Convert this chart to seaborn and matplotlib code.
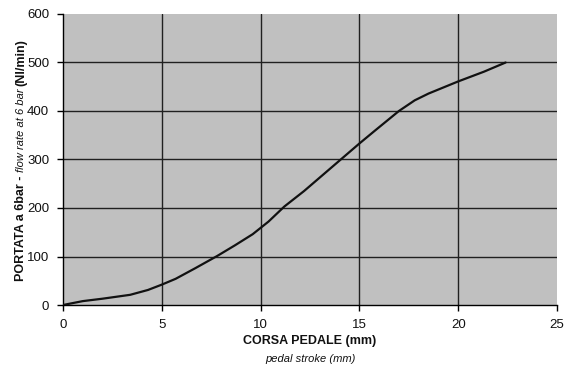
import matplotlib
matplotlib.use("Agg")
import matplotlib.pyplot as plt
import seaborn as sns
import pandas as pd

stroke_mm = [0, 1, 2, 3.4, 4.3, 5, 5.7, 6.7, 7.8, 8.7, 9.6, 10.4, 11.2, 12.2,
             13.2, 14.2, 15, 15.8, 17, 17.8, 18.5, 20, 21.3, 22.4]
flow_nl_min = [0, 8, 13, 21, 31, 42, 54, 76, 101, 123, 146, 172, 203, 235,
               270, 305, 333, 360, 400, 422, 436, 461, 481, 500]
x_ticks = [0, 5, 10, 15, 20, 25]
y_ticks = [0, 100, 200, 300, 400, 500, 600]

sns.set_style("white")
plt.rcParams['font.family'] = ['Liberation Sans', 'DejaVu Sans']

df = pd.DataFrame({"stroke": stroke_mm, "flow": flow_nl_min})

fig = plt.figure(figsize=(5.76, 3.67), dpi=100)
ax = fig.add_axes([63/576, 1-305/367, (557-63)/576, (305-14)/367])
ax.set_facecolor("#c0c0c0")

ax.set_xlim(0, 25)
ax.set_ylim(0, 600)
ax.set_xticks(x_ticks)
ax.set_yticks(y_ticks)
for v in [5, 10, 15, 20]:
    ax.axvline(v, color="#202020", lw=1.0, zorder=1)
for v in [100, 200, 300, 400, 500]:
    ax.axhline(v, color="#202020", lw=1.0, zorder=1)

sns.lineplot(data=df, x="stroke", y="flow", ax=ax, color="#111111", lw=1.6, zorder=3)

for s in ["top", "right"]:
    ax.spines[s].set_visible(False)
for s in ["left", "bottom"]:
    ax.spines[s].set_color("black")
    ax.spines[s].set_linewidth(1.0)
ax.tick_params(axis="both", direction="out", length=4, width=1, color="black",
               labelsize=9.5, labelcolor="#111111", pad=6, left=True, bottom=True)
ax.set_xlabel("")
ax.set_ylabel("")

fig.text(310/576, 1-341/367, "CORSA PEDALE (mm)", ha="center", va="center",
         fontsize=9, fontweight="bold", color="#111111")
fig.text(310/576, 1-359/367, "pedal stroke (mm)", ha="center", va="center",
         fontsize=8, fontstyle="italic", color="#111111")

# Mixed-style rotated y label
pieces = [("PORTATA a 6bar - ", dict(fontsize=9, fontweight="bold")),
          ("flow rate at 6 bar ", dict(fontsize=8, fontstyle="italic")),
          ("(Nl/min)", dict(fontsize=9, fontweight="bold"))]
fig.canvas.draw()
renderer = fig.canvas.get_renderer()
texts = []
total = 0
for s, kw in pieces:
    t = fig.text(0, 0, s, rotation=90, ha="center", va="bottom", color="#111111", **kw)
    bb = t.get_window_extent(renderer)
    texts.append((t, bb.height))
    total += bb.height
center_y = 367 - 160
ypix = center_y - total / 2
for t, h in texts:
    t.set_position((21/576, ypix/367))
    ypix += h

fig.savefig("out.png", dpi=100)
